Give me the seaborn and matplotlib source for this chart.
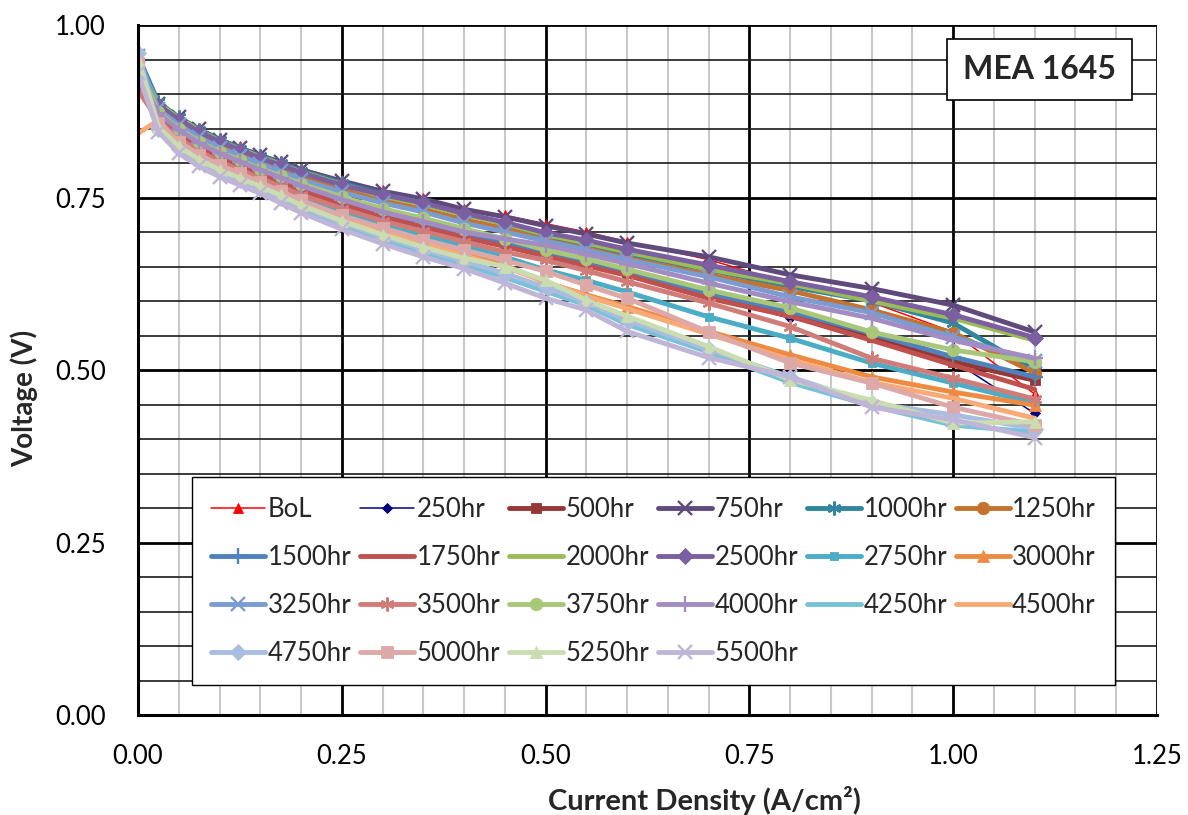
"""Polarisation curves for MEA 1645 over the durability test."""
import matplotlib.pyplot as plt
import matplotlib.ticker as mticker
import seaborn as sns

CURRENT = [0.0, 0.025, 0.05, 0.075, 0.1, 0.125, 0.15, 0.175, 0.2, 0.25, 0.3,
           0.35, 0.4, 0.45, 0.5, 0.55, 0.6, 0.7, 0.8, 0.9, 1.0, 1.1]

V_BOL = [0.940, 0.890, 0.868, 0.850, 0.836, 0.824, 0.813, 0.803, 0.793, 0.775, 0.761, 0.749, 0.734, 0.724, 0.712, 0.700, 0.686, 0.660, 0.625, 0.598, 0.555, 0.465]
V_250 = [0.950, 0.872, 0.848, 0.829, 0.814, 0.801, 0.789, 0.777, 0.765, 0.745, 0.728, 0.713, 0.698, 0.686, 0.671, 0.658, 0.645, 0.606, 0.575, 0.548, 0.514, 0.437]
V_500 = [0.930, 0.869, 0.845, 0.826, 0.810, 0.798, 0.786, 0.774, 0.762, 0.742, 0.724, 0.710, 0.695, 0.682, 0.667, 0.654, 0.640, 0.608, 0.582, 0.548, 0.512, 0.485]
V_750 = [0.920, 0.885, 0.866, 0.849, 0.834, 0.822, 0.811, 0.801, 0.790, 0.774, 0.759, 0.748, 0.733, 0.722, 0.709, 0.697, 0.684, 0.664, 0.638, 0.618, 0.594, 0.555]
V_1000 = [0.955, 0.888, 0.866, 0.848, 0.834, 0.821, 0.810, 0.800, 0.789, 0.771, 0.755, 0.742, 0.726, 0.712, 0.690, 0.678, 0.668, 0.645, 0.621, 0.600, 0.568, 0.500]
V_1250 = [0.940, 0.880, 0.857, 0.839, 0.825, 0.813, 0.802, 0.791, 0.780, 0.762, 0.746, 0.733, 0.718, 0.705, 0.688, 0.676, 0.662, 0.638, 0.615, 0.587, 0.554, 0.496]
V_1500 = [0.930, 0.870, 0.846, 0.827, 0.811, 0.799, 0.787, 0.775, 0.763, 0.743, 0.726, 0.711, 0.696, 0.683, 0.668, 0.655, 0.642, 0.611, 0.585, 0.553, 0.519, 0.490]
V_1750 = [0.920, 0.868, 0.843, 0.824, 0.808, 0.796, 0.784, 0.772, 0.760, 0.740, 0.722, 0.707, 0.692, 0.679, 0.665, 0.651, 0.637, 0.604, 0.578, 0.543, 0.507, 0.472]
V_2000 = [0.945, 0.886, 0.865, 0.847, 0.832, 0.820, 0.809, 0.798, 0.787, 0.769, 0.752, 0.740, 0.725, 0.712, 0.696, 0.684, 0.671, 0.646, 0.625, 0.600, 0.575, 0.543]
V_2500 = [0.915, 0.884, 0.863, 0.845, 0.831, 0.819, 0.807, 0.797, 0.786, 0.768, 0.754, 0.742, 0.727, 0.714, 0.699, 0.688, 0.675, 0.652, 0.628, 0.606, 0.580, 0.547]
V_2750 = [0.950, 0.860, 0.834, 0.815, 0.800, 0.787, 0.775, 0.763, 0.750, 0.729, 0.711, 0.695, 0.680, 0.664, 0.645, 0.630, 0.613, 0.577, 0.546, 0.510, 0.481, 0.452]
V_3000 = [0.935, 0.857, 0.830, 0.811, 0.796, 0.783, 0.771, 0.758, 0.745, 0.722, 0.703, 0.686, 0.669, 0.652, 0.627, 0.609, 0.592, 0.556, 0.522, 0.490, 0.468, 0.449]
V_3250 = [0.955, 0.878, 0.855, 0.837, 0.822, 0.810, 0.799, 0.788, 0.776, 0.758, 0.742, 0.729, 0.713, 0.700, 0.687, 0.674, 0.660, 0.635, 0.606, 0.583, 0.548, 0.513]
V_3500 = [0.905, 0.862, 0.836, 0.817, 0.802, 0.790, 0.778, 0.766, 0.754, 0.734, 0.716, 0.701, 0.686, 0.671, 0.659, 0.644, 0.628, 0.597, 0.563, 0.517, 0.488, 0.458]
V_3750 = [0.940, 0.874, 0.850, 0.831, 0.816, 0.804, 0.792, 0.781, 0.770, 0.751, 0.734, 0.720, 0.705, 0.690, 0.674, 0.661, 0.646, 0.616, 0.590, 0.555, 0.529, 0.512]
V_4000 = [0.930, 0.872, 0.848, 0.829, 0.814, 0.802, 0.790, 0.779, 0.767, 0.747, 0.729, 0.715, 0.700, 0.690, 0.681, 0.668, 0.654, 0.626, 0.599, 0.575, 0.543, 0.517]
V_4250 = [0.950, 0.848, 0.818, 0.799, 0.784, 0.772, 0.760, 0.747, 0.733, 0.709, 0.689, 0.670, 0.653, 0.634, 0.614, 0.594, 0.566, 0.526, 0.482, 0.448, 0.420, 0.410]
V_4500 = [0.843, 0.862, 0.828, 0.809, 0.794, 0.781, 0.769, 0.756, 0.742, 0.720, 0.700, 0.683, 0.666, 0.649, 0.628, 0.607, 0.589, 0.552, 0.515, 0.482, 0.459, 0.430]
V_4750 = [0.960, 0.850, 0.821, 0.802, 0.787, 0.775, 0.763, 0.750, 0.736, 0.713, 0.693, 0.675, 0.658, 0.640, 0.620, 0.598, 0.572, 0.530, 0.490, 0.452, 0.435, 0.415]
V_5000 = [0.945, 0.858, 0.831, 0.812, 0.797, 0.785, 0.772, 0.759, 0.746, 0.724, 0.706, 0.689, 0.674, 0.659, 0.643, 0.623, 0.604, 0.555, 0.510, 0.481, 0.446, 0.420]
V_5250 = [0.950, 0.852, 0.824, 0.805, 0.790, 0.778, 0.766, 0.753, 0.739, 0.716, 0.696, 0.678, 0.662, 0.650, 0.630, 0.601, 0.578, 0.534, 0.486, 0.456, 0.423, 0.425]
V_5500 = [0.930, 0.845, 0.814, 0.795, 0.780, 0.768, 0.756, 0.742, 0.728, 0.704, 0.683, 0.664, 0.647, 0.626, 0.604, 0.587, 0.556, 0.518, 0.490, 0.446, 0.428, 0.402]

LABELS = ["BoL", "250hr", "500hr", "750hr", "1000hr", "1250hr", "1500hr", "1750hr",
          "2000hr", "2500hr", "2750hr", "3000hr", "3250hr", "3500hr", "3750hr", "4000hr",
          "4250hr", "4500hr", "4750hr", "5000hr", "5250hr", "5500hr"]
VOLTAGES = [V_BOL, V_250, V_500, V_750, V_1000, V_1250, V_1500, V_1750, V_2000, V_2500,
            V_2750, V_3000, V_3250, V_3500, V_3750, V_4000, V_4250, V_4500, V_4750,
            V_5000, V_5250, V_5500]

ASTERISK = (6, 2, 0)
# (colour, marker, line width, marker size)
STYLES = [
    ("#FF0000", "^", 1.1, 7),
    ("#000080", "D", 1.1, 5),
    ("#953735", "s", 3.5, 7),
    ("#604A7B", "x", 3.5, 10),
    ("#31859C", ASTERISK, 3.5, 10),
    ("#C4722F", "o", 3.5, 9),
    ("#4F81BD", "+", 3.5, 11),
    ("#C0504D", None, 3.5, 0),
    ("#9BBB59", None, 3.5, 0),
    ("#7B5FA0", "D", 3.5, 8),
    ("#4BACC6", "s", 3.5, 6),
    ("#EE8B43", "^", 3.5, 9),
    ("#7A9CD1", "x", 3.5, 10),
    ("#D07C79", ASTERISK, 3.5, 10),
    ("#A9C779", "o", 3.5, 9),
    ("#A28CC1", "+", 3.5, 11),
    ("#7AC1D8", None, 3.5, 0),
    ("#F9AA77", None, 3.5, 0),
    ("#A8BDE0", "D", 3.5, 8),
    ("#DDA9A8", "s", 3.5, 8),
    ("#CADDB0", "^", 3.5, 9),
    ("#BFB5D6", "x", 3.5, 10),
]

sns.set_style("white")
plt.rcParams["font.family"] = ["Lato", "DejaVu Sans"]

fig, ax = plt.subplots(figsize=(11.88, 8.15), dpi=100)
fig.subplots_adjust(left=0.1162, right=0.9739, top=0.9693, bottom=0.1227)

for label, volts, (color, marker, lw, ms) in zip(LABELS, VOLTAGES, STYLES):
    open_marker = marker in ("x", "+", ASTERISK)
    sns.lineplot(
        x=CURRENT, y=volts, ax=ax, label=label, color=color, lw=lw,
        marker=marker, markersize=ms, markerfacecolor=color, markeredgecolor=color,
        markeredgewidth=1.7 if open_marker else 0.6, sort=False, estimator=None,
    )

ax.set_xlim(0, 1.25)
ax.set_ylim(0, 1.0)
ax.xaxis.set_major_locator(mticker.MultipleLocator(0.25))
ax.xaxis.set_minor_locator(mticker.MultipleLocator(0.05))
ax.yaxis.set_major_locator(mticker.MultipleLocator(0.25))
ax.yaxis.set_minor_locator(mticker.MultipleLocator(0.05))
ax.xaxis.set_major_formatter(mticker.FormatStrFormatter("%.2f"))
ax.yaxis.set_major_formatter(mticker.FormatStrFormatter("%.2f"))
ax.grid(which="major", color="black", lw=2.0, zorder=0)
ax.grid(which="minor", axis="x", color="#C8C8C8", lw=1.5, zorder=0)
ax.grid(which="minor", axis="y", color="#1a1a1a", lw=1.2, zorder=0)
ax.set_axisbelow(True)
for side in ("left", "bottom"):
    ax.spines[side].set_color("black")
    ax.spines[side].set_linewidth(2.2)
for side in ("top", "right"):
    ax.spines[side].set_visible(False)
ax.tick_params(which="both", length=0, labelsize=18.5, labelcolor="black")
ax.tick_params(axis="x", pad=21)
ax.tick_params(axis="y", pad=23)

ax.set_xlabel("Current Density (A/cm²)", fontsize=21, fontweight="bold")
ax.set_ylabel("Voltage (V)", fontsize=20, fontweight="bold")
ax.xaxis.set_label_coords(0.556, -0.103)
ax.yaxis.set_label_coords(-0.098, 0.459)

ax.text(0.885, 0.935, "MEA 1645", transform=ax.transAxes, ha="center", va="center",
        fontsize=23, fontweight="bold",
        bbox={"boxstyle": "square,pad=0.5", "facecolor": "white", "edgecolor": "black", "lw": 1.2})

handles, labels = ax.get_legend_handles_labels()
order = [i for c in range(6) for i in range(c, len(labels), 6)]
leg = ax.legend(
    [handles[i] for i in order], [labels[i] for i in order],
    ncol=6, loc="lower left", bbox_to_anchor=(0.053, 0.043, 0.906, 0.30), mode="expand",
    fontsize=18.5, frameon=True, fancybox=False, framealpha=1, edgecolor="black",
    handlelength=2.1, handletextpad=0.1, columnspacing=0.5, labelspacing=0.9,
    borderpad=0.75, borderaxespad=0,
)
leg.get_frame().set_linewidth(1.0)

fig.savefig("out.png", dpi=100, facecolor="white")
